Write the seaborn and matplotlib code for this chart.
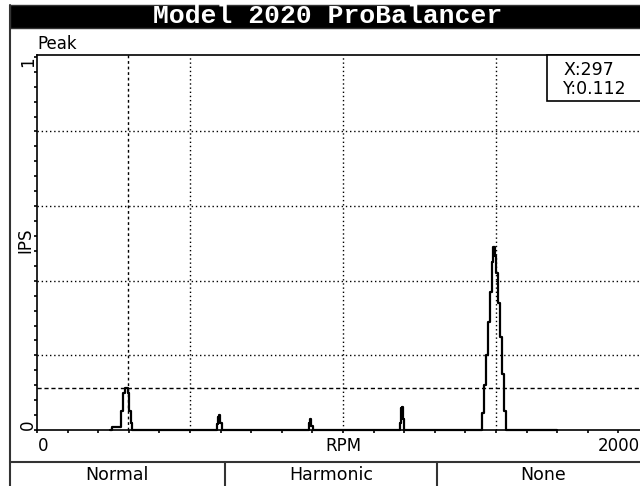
import numpy as np
import pandas as pd
import matplotlib.pyplot as plt
import seaborn as sns
from matplotlib.lines import Line2D
from matplotlib.patches import Rectangle
import matplotlib.transforms as mtransforms

# ================================================================
# spectrum (RPM vs IPS peak)

rpm = [240, 248, 256, 264, 272, 279, 284, 289, 294, 299, 304, 309, 314,
       585, 589, 593, 597, 601, 605,
       887, 891, 895, 899, 903,
       1183, 1187, 1190, 1194, 1197, 1201,
       1450, 1457, 1464, 1471, 1477, 1484, 1489, 1494, 1498, 1503, 1510, 1516, 1523, 1529, 1536,
       1700]
ips = [0.0, 0.008, 0.008, 0.008, 0.008, 0.05, 0.10, 0.112, 0.112, 0.10, 0.05, 0.02, 0.0,
       0.0, 0.015, 0.035, 0.04, 0.02, 0.0,
       0.0, 0.02, 0.03, 0.01, 0.0,
       0.0, 0.02, 0.06, 0.062, 0.03, 0.0,
       0.0, 0.045, 0.12, 0.20, 0.29, 0.37, 0.45, 0.49, 0.465, 0.42, 0.34, 0.25, 0.15, 0.05, 0.0,
       0.0]

grid_rpm = [500, 1000, 1500]
grid_ips = [0.2, 0.4, 0.6, 0.8]
cursor_x = 297
cursor_y = 0.112

title = 'Model 2020 ProBalancer'
modes = ['Normal', 'Harmonic', 'None']

W, H = 640, 486
fx = lambda px: px / W
fy = lambda py: 1 - py / H

sns.set_style('ticks')
plt.rcParams['font.family'] = ['DejaVu Sans']
plt.rcParams['text.color'] = 'black'

fig = plt.figure(figsize=(6.4, 4.86), dpi=100)
fig.patch.set_facecolor('white')

# ================================================================
# screen frame

edge = '#333333'
fig.add_artist(Rectangle((fx(10), fy(28)), fx(660) - fx(10), fy(5) - fy(28),
                         transform=fig.transFigure, facecolor='black', edgecolor=edge, lw=1))
fig.add_artist(Line2D([fx(10), fx(10)], [fy(5), fy(486)], transform=fig.transFigure, color=edge, lw=1.5))
fig.add_artist(Line2D([fx(10), fx(640)], [fy(462), fy(462)], transform=fig.transFigure, color=edge, lw=1.5))
for xd in [225, 437]:
    fig.add_artist(Line2D([fx(xd), fx(xd)], [fy(462), fy(486)], transform=fig.transFigure, color=edge, lw=1.5))

fig.text(fx(328), fy(16), title, color='white', ha='center', va='center',
         family='Liberation Mono', fontweight='bold', fontsize=19)
fig.text(fx(37), fy(53), 'Peak', ha='left', va='bottom', fontsize=12)
fig.text(fx(25), fy(240), 'IPS', ha='center', va='center', rotation=90, fontsize=12)
for xc, lab in zip([117, 331, 543], modes):
    fig.text(fx(xc), fy(475), lab, ha='center', va='center', fontsize=12.5)

# ================================================================
# spectrum axes

ax0 = fig.add_axes([fx(37), fy(430), fx(649) - fx(37), fy(55) - fy(430)])
ax0.set_xlim(0, 2000)
ax0.set_ylim(0, 1.005)

for g in grid_rpm:
    ax0.axvline(g, color='black', lw=1, ls=(0, (1, 2)), zorder=1)
for g in grid_ips:
    ax0.axhline(g, color='black', lw=1, ls=(0, (1, 2)), zorder=1)
ax0.axvline(cursor_x, color='black', lw=1, ls=(0, (2, 2)), zorder=1)
ax0.axhline(cursor_y, color='black', lw=1, ls=(0, (3, 2)), zorder=1)

spec = pd.DataFrame({'RPM': rpm, 'IPS': ips})
sns.lineplot(data=spec, x='RPM', y='IPS', ax=ax0, color='black', lw=1.6,
             drawstyle='steps-mid', estimator=None, clip_on=False, zorder=3)

ax0.set_xlabel('')
ax0.set_ylabel('')
for s in ['left', 'bottom', 'top']:
    ax0.spines[s].set_color('black')
    ax0.spines[s].set_linewidth(1.2)
ax0.spines['right'].set_visible(False)

ax0.set_xticks(np.arange(0, 2001, 100))
ax0.set_xticklabels([])
ax0.set_yticks(np.arange(0, 1.001, 0.04))
ax0.set_yticklabels([])
ax0.tick_params(which='both', direction='out', length=2.5, width=1.2, color='black',
                bottom=True, left=True, top=False, right=False)

# axis labels as on the device screen
xlab = mtransforms.blended_transform_factory(ax0.transData, fig.transFigure)
fig.text(fx(38), fy(437), '0', ha='left', va='top', fontsize=12)
ax0.text(1000, fy(437), 'RPM', transform=xlab, ha='center', va='top', fontsize=12)
fig.text(fx(640), fy(437), '2000', ha='right', va='top', fontsize=12)

ylab = mtransforms.blended_transform_factory(fig.transFigure, ax0.transData)
ax0.text(fx(37), 0, '0', transform=ylab, ha='right', va='bottom', rotation=90, fontsize=12)
ax0.text(fx(37), 1, '1', transform=ylab, ha='right', va='top', rotation=90, fontsize=12)

# cursor readout box
fig.add_artist(Rectangle((fx(547), fy(101)), fx(660) - fx(547), fy(55) - fy(101),
                         transform=fig.transFigure, facecolor='white', edgecolor='black', lw=1.2, zorder=5))
fig.text(fx(563), fy(70), 'X:' + str(cursor_x), ha='left', va='center', fontsize=12.5, zorder=6)
fig.text(fx(563), fy(89), 'Y:' + str(cursor_y), ha='left', va='center', fontsize=12.5, zorder=6)

fig.savefig('out.png', dpi=100)
plt.close(fig)
